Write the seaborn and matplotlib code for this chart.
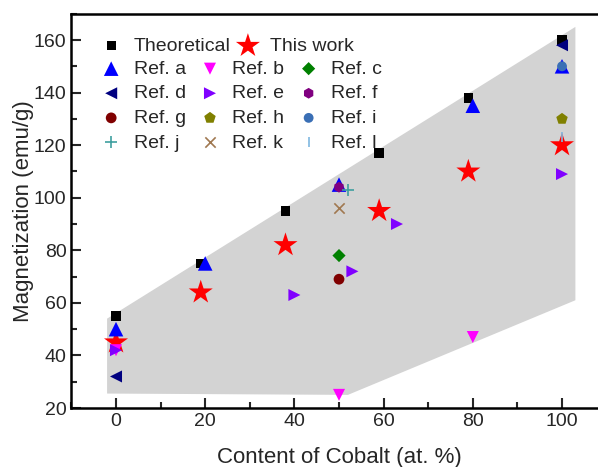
import matplotlib
matplotlib.use("Agg")
import matplotlib.pyplot as plt
from matplotlib.ticker import MultipleLocator
import seaborn as sns
import pandas as pd

# ---- data ----
theo_x = [0, 19, 38, 59, 79, 100]
theo_y = [55, 75, 95, 117, 138, 160]
work_x = [0, 19, 38, 59, 79, 100]
work_y = [45, 64, 82, 95, 110, 120]
refa_x = [0, 20, 50, 80, 100]
refa_y = [50, 75, 105, 135, 150]
refb_x = [0, 50, 80]
refb_y = [42, 25, 47]
refc_x = [50]
refc_y = [78]
refd_x = [0, 100]
refd_y = [32, 158]
refe_x = [0, 40, 53, 63, 100]
refe_y = [42, 63, 72, 90, 109]
reff_x = [50]
reff_y = [104]
refg_x = [50]
refg_y = [69]
refh_x = [100]
refh_y = [130]
refi_x = [100]
refi_y = [150]
refj_x = [52]
refj_y = [103]
refk_x = [50]
refk_y = [96]
refl_x = [100]
refl_y = [123]
# shaded band outline
band_x = [-2, -2, 103, 103, 52]
band_y = [25.5, 54, 165, 61, 25]

sns.set_style("ticks")
plt.rcParams['font.family'] = ['Liberation Sans', 'DejaVu Sans']

fig = plt.figure(figsize=(5.98, 4.67), dpi=100)
ax = fig.add_axes([0.1194, 0.1263, 0.895, 0.8443])

ax.fill(band_x, band_y, color='#d3d3d3', lw=0, zorder=0)

series = [
    ("Theoretical", theo_x, theo_y, 's', 45, '#000000'),
    ("This work", work_x, work_y, '*', 330, '#ff0000'),
    ("Ref. a", refa_x, refa_y, '^', 110, '#0000ff'),
    ("Ref. b", refb_x, refb_y, 'v', 75, '#ff00ff'),
    ("Ref. c", refc_x, refc_y, 'D', 45, '#008000'),
    ("Ref. d", refd_x, refd_y, '<', 75, '#000080'),
    ("Ref. e", refe_x, refe_y, '>', 75, '#8000ff'),
    ("Ref. f", reff_x, reff_y, 'h', 60, '#800080'),
    ("Ref. g", refg_x, refg_y, 'o', 60, '#800000'),
    ("Ref. h", refh_x, refh_y, 'p', 75, '#808000'),
    ("Ref. i", refi_x, refi_y, 'o', 50, '#3a6fb5'),
    ("Ref. j", refj_x, refj_y, '+', 70, '#3f9f9f'),
    ("Ref. k", refk_x, refk_y, 'x', 55, '#a07850'),
    ("Ref. l", refl_x, refl_y, '|', 60, '#7fb8e0'),
]
order_z = {"Theoretical": 3, "This work": 4}
for lab, xs, ys, mk, s, c in series:
    df = pd.DataFrame({"x": xs, "y": ys})
    unfilled = mk in ('+', 'x', '|')
    kw = dict(linewidth=1.2) if unfilled else dict(linewidth=0, edgecolor='none')
    sns.scatterplot(data=df, x="x", y="y", marker=mk, s=s, color=c, label=lab,
                    ax=ax, zorder=order_z.get(lab, 5), **kw)

handles, labels = ax.get_legend_handles_labels()
if ax.legend_ is not None:
    ax.legend_.remove()
hd = dict(zip(labels, handles))

leg1 = ax.legend([hd["Theoretical"], hd["This work"]], ["Theoretical", "This work"],
                 ncol=2, frameon=False, loc='upper left', bbox_to_anchor=(0.038, 0.96),
                 fontsize=14, handletextpad=0.55, columnspacing=0.3, borderaxespad=0,
                 handlelength=1.2)
ax.add_artist(leg1)
ref_labels = ["Ref. a", "Ref. d", "Ref. g", "Ref. j",
              "Ref. b", "Ref. e", "Ref. h", "Ref. k",
              "Ref. c", "Ref. f", "Ref. i", "Ref. l"]
ax.legend([hd[l] for l in ref_labels], ref_labels, ncol=3, frameon=False,
          loc='upper left', bbox_to_anchor=(0.038, 0.902), fontsize=14,
          handletextpad=0.55, columnspacing=0.65, labelspacing=0.36,
          borderaxespad=0, handlelength=1.2)

ax.set_xlim(-10, 110)
ax.set_ylim(20, 170)
ax.xaxis.set_major_locator(MultipleLocator(20))
ax.xaxis.set_minor_locator(MultipleLocator(10))
ax.yaxis.set_major_locator(MultipleLocator(20))
ax.yaxis.set_minor_locator(MultipleLocator(10))
ax.set_yticks([20, 40, 60, 80, 100, 120, 140, 160])
ax.tick_params(which='major', direction='in', length=7, width=1.5, labelsize=14)
ax.tick_params(which='minor', direction='in', length=4, width=1.5)
for sp in ax.spines.values():
    sp.set_linewidth(1.8)
    sp.set_color('black')
ax.set_xlabel("Content of Cobalt (at. %)", fontsize=16, labelpad=12)
ax.set_ylabel("Magnetization (emu/g)", fontsize=16, labelpad=0)

fig.savefig("out.png", dpi=100)
